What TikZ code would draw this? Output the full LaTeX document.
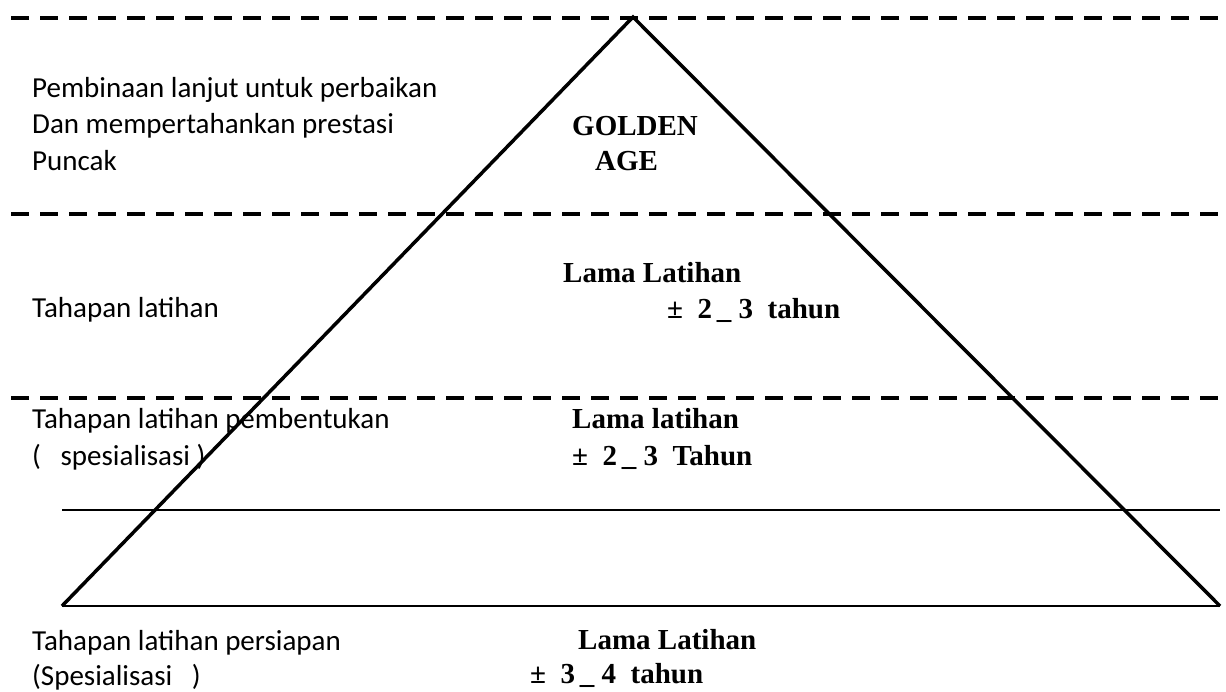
\documentclass[tikz,border=0pt]{standalone}
\usepackage{fontspec}
\setmainfont{Carlito}
\newfontfamily\tnr{Liberation Serif}
\usepackage{tikz}

\begin{document}
\begin{tikzpicture}[x=1pt, y=-1pt, every node/.style={inner sep=0pt, anchor=base west}, lbl/.style={font=\fontsize{29}{36}\selectfont}, val/.style={font=\fontsize{29}{36}\tnr\bfseries}, levelcut/.style={line width=4pt, dash pattern=on 18pt off 11pt}, side/.style={line width=3.5pt, line join=miter}, lvl/.style={line width=2pt}]
	\useasboundingbox (0,0) rectangle (1226,691);
	% left column
	\foreach \n/\y/\t in {p1/97/{Pembinaan lanjut untuk perbaikan}, p2/133/{Dan mempertahankan prestasi}, p3/170/{Puncak}, tl/317/{Tahapan latihan}, tb1/428/{Tahapan latihan pembentukan}, tb2/465/{(\ \ \ spesialisasi )}, ts1/650/{Tahapan latihan persiapan}, ts2/685/{(Spesialisasi\ \ \ )}} {\node[lbl] (\n) at (32,\y) {\t};}
	% bold values
	\foreach \n/\x/\y/\t in {g1/572/135/{GOLDEN}, g2/595/170/{AGE}, la/563/282/{Lama Latihan}, da/667/318/{±\ \ 2\,\_\ 3\ \ tahun}, lb/572/428/{Lama latihan}, db/572/465/{±\ \ 2\,\_\ 3\ \ Tahun}, lc/578/649/{Lama Latihan}, dc/530/683/{±\ \ 3\,\_\ 4\ \ tahun}} {\node[val] (\n) at (\x,\y) {\t};}
	% pyramid
	\coordinate (top) at (633,17);
	\coordinate (bl) at (62,606);
	\coordinate (br) at (1220,606);
	\coordinate (ml) at (62,510);
	\coordinate (mr) at (1220,510);
	\draw[lvl] (ml) -- (mr);
	\draw[lvl] (bl) -- (br);
	\draw[side] (bl) -- (top) -- (br);
	\foreach \k/\y in {a/18, b/214, c/398} {\coordinate (\k l) at (11,\y); \coordinate (\k r) at (1226,\y); \draw[levelcut] (\k l) -- (\k r);}
\end{tikzpicture}
\end{document}
